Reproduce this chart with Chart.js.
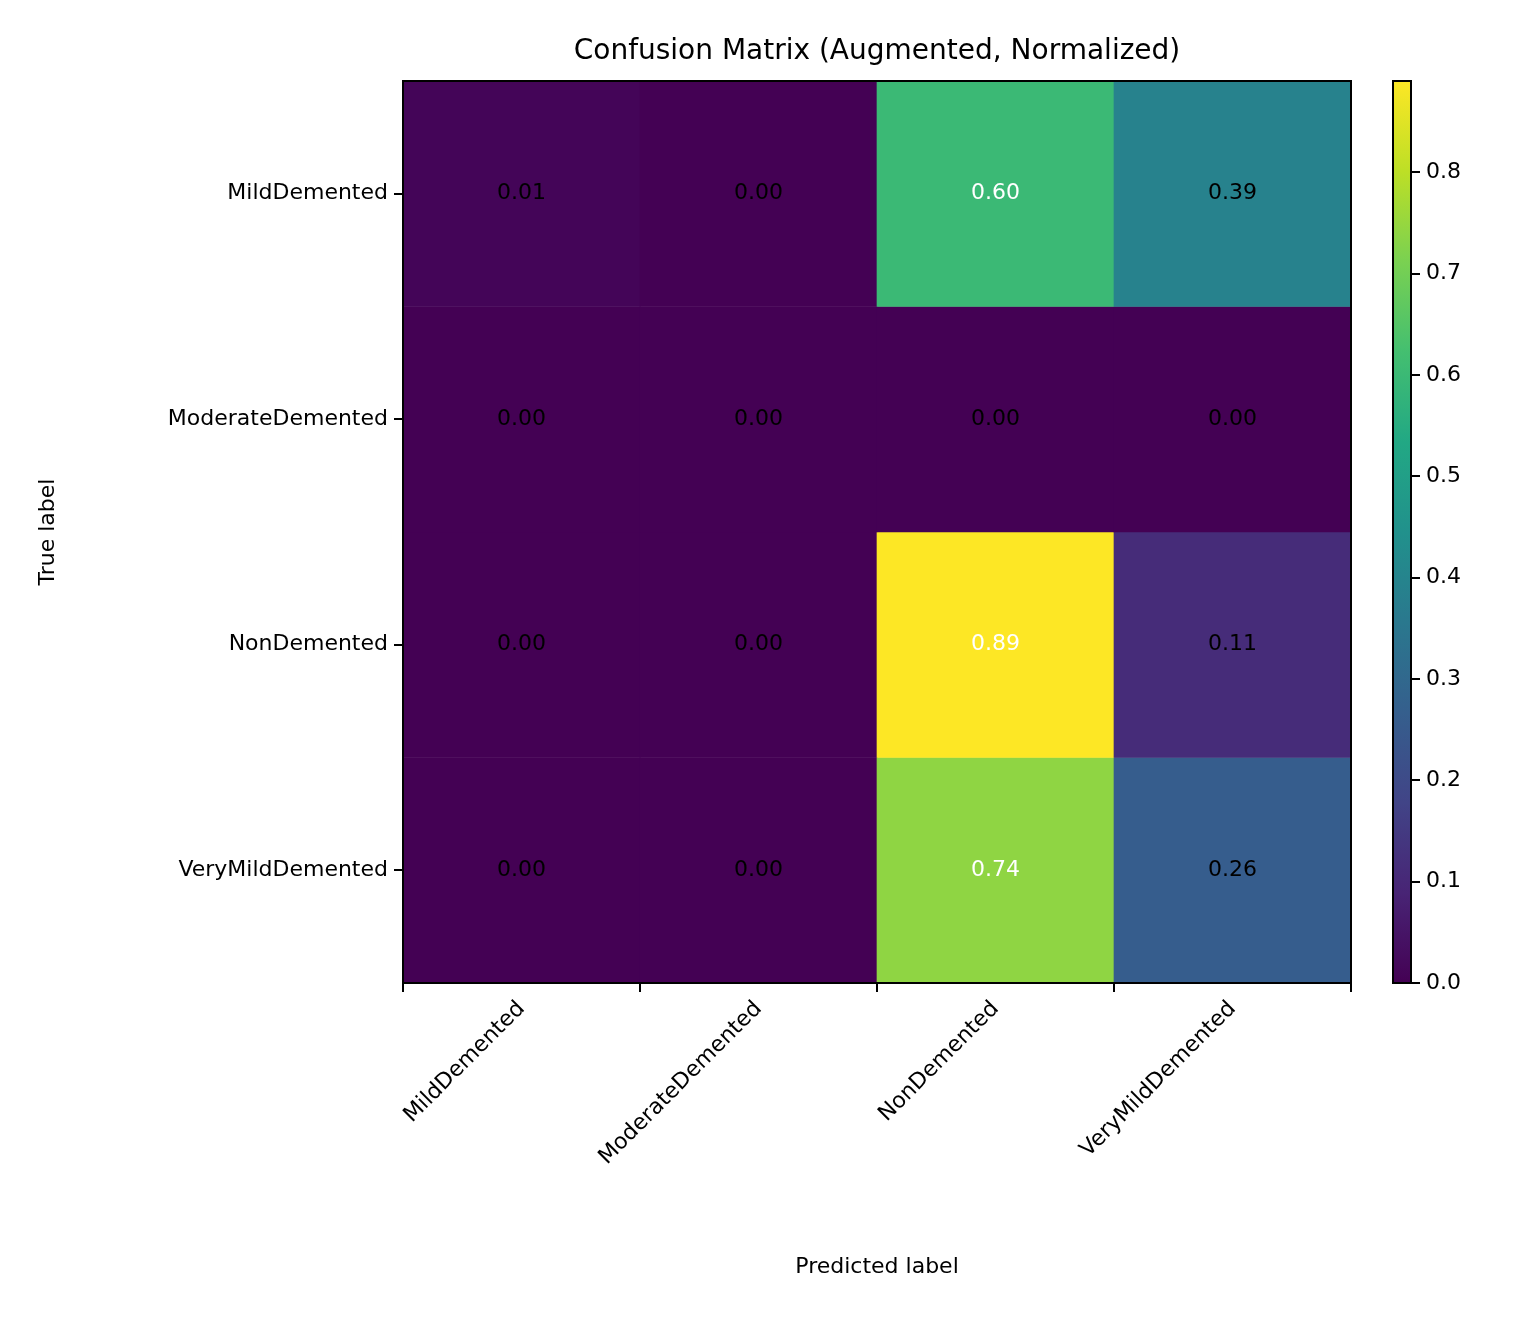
<!DOCTYPE html>
<html>
<head>
<meta charset="utf-8">
<script src="https://cdn.jsdelivr.net/npm/chart.js@4.4.0/dist/chart.umd.min.js"></script>
<style>
  body { margin: 0; background: #fff; }
  #wrap { position: relative; width: 1540px; height: 1320px; }
  canvas { position: absolute; top: 0; }
</style>
</head>
<body>
<div id="wrap">
  <canvas id="cm" width="1380" height="1320" style="left:0"></canvas>
  <canvas id="cbar" width="160" height="1320" style="left:1380px"></canvas>
</div>
<script>
// 클래스 이름
var classNames = ['MildDemented', 'ModerateDemented', 'NonDemented', 'VeryMildDemented'];

// 행 = 실제 라벨, 열 = 예측 라벨
var rowMild = [0.01, 0.00, 0.60, 0.39];
var rowModerate = [0.00, 0.00, 0.00, 0.00];
var rowNon = [0.00, 0.00, 0.89, 0.11];
var rowVeryMild = [0.00, 0.00, 0.74, 0.26];
var matrixRows = [rowMild, rowModerate, rowNon, rowVeryMild];

var colorbarTicks = [0.0, 0.1, 0.2, 0.3, 0.4, 0.5, 0.6, 0.7, 0.8];

var FONT = 'DejaVu Sans';
var vmax = Math.max.apply(null, matrixRows.map(function (r) { return Math.max.apply(null, r); }));

// viridis 컬러맵
var viridis = ['#440154', '#482475', '#414487', '#355f8d', '#2a788e', '#21918c', '#22a884', '#44bf70', '#7ad151', '#bddf26', '#fde725'];
function hexToRgb(h) {
  return [parseInt(h.substr(1, 2), 16), parseInt(h.substr(3, 2), 16), parseInt(h.substr(5, 2), 16)];
}
function viridisColor(t) {
  t = Math.max(0, Math.min(1, t));
  var p = t * (viridis.length - 1);
  var i = Math.min(Math.floor(p), viridis.length - 2);
  var f = p - i;
  var a = hexToRgb(viridis[i]), b = hexToRgb(viridis[i + 1]);
  return 'rgb(' + Math.round(a[0] + (b[0] - a[0]) * f) + ',' + Math.round(a[1] + (b[1] - a[1]) * f) + ',' + Math.round(a[2] + (b[2] - a[2]) * f) + ')';
}

// 행마다 데이터셋 하나 (floating bar)
var datasets = matrixRows.map(function (row, r) {
  return {
    data: row.map(function () { return [r - 0.5, r + 0.5]; }),
    backgroundColor: row.map(function (v) { return viridisColor(v / vmax); }),
    borderWidth: 0,
    barPercentage: 1.0,
    categoryPercentage: 1.0,
    grouped: false
  };
});

var decorPlugin = {
  id: 'decor',
  afterDatasetsDraw: function (chart) {
    var ctx = chart.ctx, a = chart.chartArea;
    var xs = chart.scales.x, ys = chart.scales.y;
    ctx.save();
    ctx.font = '22px ' + FONT;
    ctx.textAlign = 'center';
    ctx.textBaseline = 'middle';
    matrixRows.forEach(function (row, r) {
      row.forEach(function (v, c) {
        ctx.fillStyle = v > vmax / 2 ? '#ffffff' : '#000000';
        ctx.fillText(v.toFixed(2), xs.getPixelForValue(c), ys.getPixelForValue(r));
      });
    });
    ctx.strokeStyle = '#000';
    ctx.lineWidth = 2;
    ctx.strokeRect(a.left, a.top, a.right - a.left, a.bottom - a.top);
    ctx.fillStyle = '#000';
    ctx.font = '28px ' + FONT;
    ctx.fillText('Confusion Matrix (Augmented, Normalized)', (a.left + a.right) / 2, 52);
    ctx.font = '22px ' + FONT;
    ctx.fillText('Predicted label', (a.left + a.right) / 2, 1267);
    ctx.translate(48, (a.top + a.bottom) / 2);
    ctx.rotate(-Math.PI / 2);
    ctx.fillText('True label', 0, 0);
    ctx.restore();
  }
};

new Chart(document.getElementById('cm'), {
  type: 'bar',
  data: { labels: classNames, datasets: datasets },
  options: {
    responsive: false,
    animation: false,
    devicePixelRatio: 1,
    layout: { padding: { top: 81, right: 29, left: 0, bottom: 0 } },
    plugins: { legend: { display: false }, tooltip: { enabled: false } },
    scales: {
      x: {
        grid: { drawOnChartArea: false, tickLength: 9, color: '#000', lineWidth: 2 },
        border: { display: false },
        ticks: { color: '#000', font: { family: FONT, size: 22 }, maxRotation: 45, minRotation: 45, padding: 4 },
        afterFit: function (s) { s.height = 337; }
      },
      y: {
        type: 'linear',
        reverse: true,
        min: -0.5,
        max: 3.5,
        afterBuildTicks: function (s) { s.ticks = [0, 1, 2, 3].map(function (v) { return { value: v }; }); },
        grid: { drawOnChartArea: false, tickLength: 9, color: '#000', lineWidth: 2 },
        border: { display: false },
        ticks: {
          color: '#000', font: { family: FONT, size: 22 }, padding: 6,
          callback: function (v) { return classNames[v]; }
        },
        afterFit: function (s) { s.width = 403; }
      }
    }
  },
  plugins: [decorPlugin]
});

// 컬러바
var cbarBorder = {
  id: 'cbarBorder',
  afterDatasetsDraw: function (chart) {
    var ctx = chart.ctx, a = chart.chartArea;
    ctx.save();
    ctx.strokeStyle = '#000';
    ctx.lineWidth = 2;
    ctx.strokeRect(a.left, a.top, a.right - a.left, a.bottom - a.top);
    ctx.restore();
  }
};

new Chart(document.getElementById('cbar'), {
  type: 'bar',
  data: {
    labels: ['cbar'],
    datasets: [{
      data: [[0, vmax]],
      borderWidth: 0,
      barPercentage: 1.0,
      categoryPercentage: 1.0,
      backgroundColor: function (context) {
        var a = context.chart.chartArea;
        if (!a) return viridis[0];
        var g = context.chart.ctx.createLinearGradient(0, a.bottom, 0, a.top);
        viridis.forEach(function (c, i) { g.addColorStop(i / (viridis.length - 1), c); });
        return g;
      }
    }]
  },
  options: {
    responsive: false,
    animation: false,
    devicePixelRatio: 1,
    layout: { padding: { top: 81, left: 13, right: 0, bottom: 337 } },
    plugins: { legend: { display: false }, tooltip: { enabled: false } },
    scales: {
      x: { display: false },
      y: {
        position: 'right',
        min: 0,
        max: vmax,
        afterBuildTicks: function (s) { s.ticks = colorbarTicks.map(function (v) { return { value: v }; }); },
        grid: { drawOnChartArea: false, tickLength: 9, color: '#000', lineWidth: 2 },
        border: { display: false },
        ticks: {
          color: '#000', font: { family: FONT, size: 22 }, padding: 6,
          callback: function (v) { return Number(v).toFixed(1); }
        },
        afterFit: function (s) { s.width = 129; }
      }
    }
  },
  plugins: [cbarBorder]
});
</script>
</body>
</html>
